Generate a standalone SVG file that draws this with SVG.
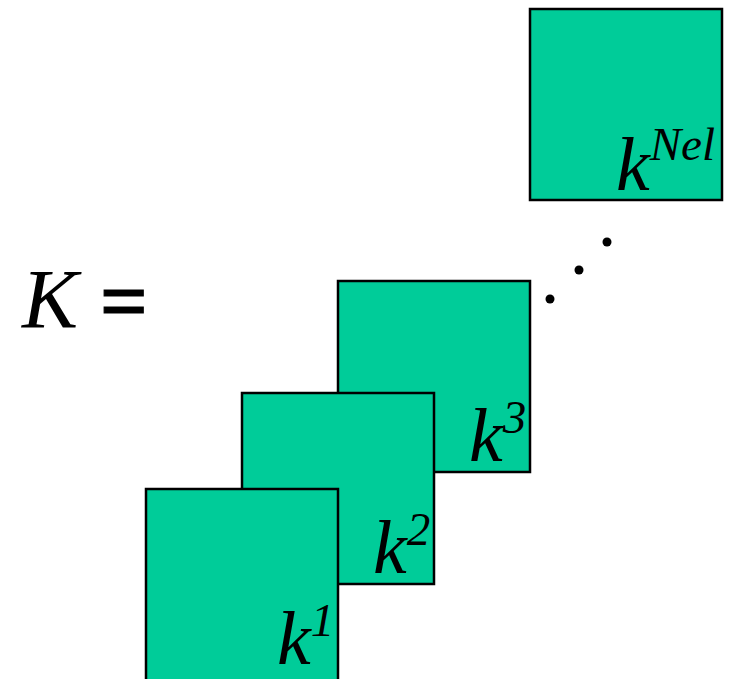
<svg xmlns="http://www.w3.org/2000/svg" width="731" height="679" viewBox="0 0 731 679">
<style>
.box{fill:#00CC99;stroke:#000;stroke-width:2.5}
.lbl{font-family:"Liberation Serif",serif;font-style:italic;font-size:76px;fill:#000}
.sup{font-size:47px}
</style>
<rect width="731" height="679" fill="#fff"/>
<g id="K-eq">
<text x="22" y="328" font-family="Liberation Serif, serif" font-style="italic" font-size="84">K</text>
<text x="100" y="330" font-family="Liberation Serif, serif" font-weight="bold" font-size="84" stroke="#000" stroke-width="1.2">=</text>
</g>
<g id="box-nel">
<rect class="box" x="530" y="9" width="192" height="191"/>
<text class="lbl" x="616" y="190">k<tspan class="sup" dy="-30">Nel</tspan></text>
</g>
<g id="dots">
<circle cx="550" cy="299" r="4.5"/>
<circle cx="579" cy="270" r="4.5"/>
<circle cx="607" cy="242" r="4.5"/>
</g>
<g id="box-3">
<rect class="box" x="338" y="281" width="192" height="191"/>
<text class="lbl" x="469" y="461">k<tspan class="sup" dy="-28">3</tspan></text>
</g>
<g id="box-2">
<rect class="box" x="242" y="393" width="192" height="191"/>
<text class="lbl" x="373" y="573">k<tspan class="sup" dy="-28">2</tspan></text>
</g>
<g id="box-1">
<rect class="box" x="146" y="489" width="192" height="200"/>
<text class="lbl" x="277" y="664">k<tspan class="sup" dy="-28">1</tspan></text>
</g>
</svg>
